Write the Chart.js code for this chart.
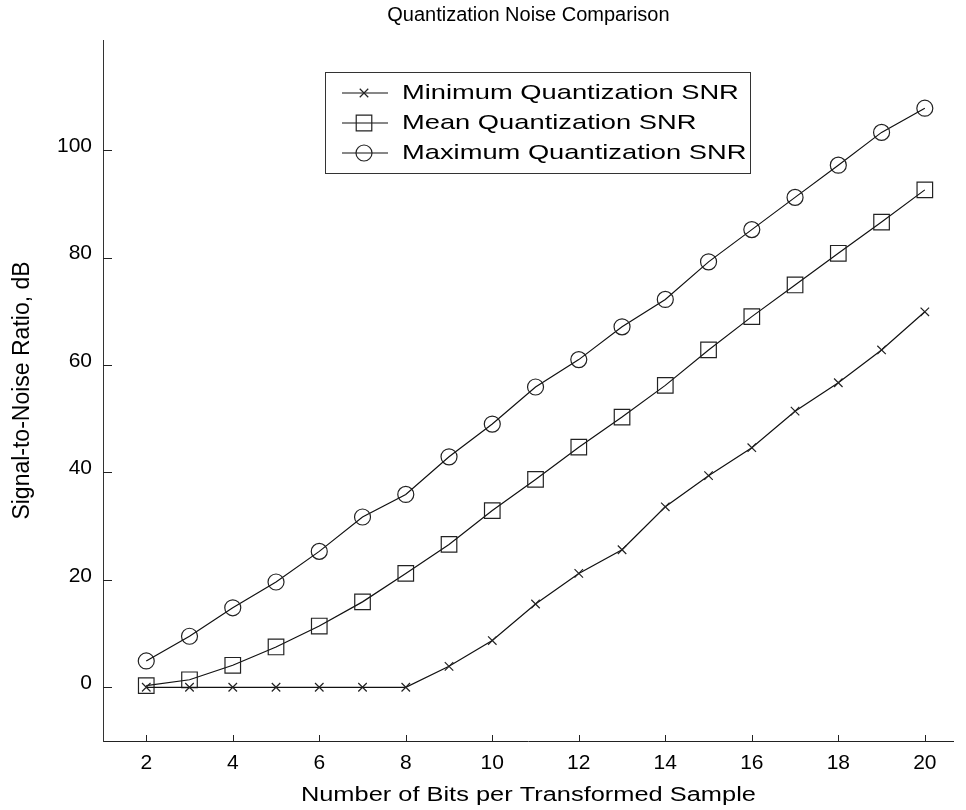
<!DOCTYPE html>
<html>
<head>
<meta charset="utf-8">
<script src="https://cdn.jsdelivr.net/npm/chart.js@4.4.1/dist/chart.umd.min.js"></script>
<style>
html,body{margin:0;padding:0;background:#fff;}
#wrap{width:966px;height:810px;position:relative;}
</style>
</head>
<body>
<div id="wrap"><canvas id="c" width="966" height="810"></canvas></div>
<script>
// ---- data ----
const bits = [2,3,4,5,6,7,8,9,10,11,12,13,14,15,16,17,18,19,20];
const minSNR  = [0,0,0,0,0,0,0,3.9,8.7,15.5,21.2,25.6,33.6,39.4,44.6,51.4,56.7,62.8,69.9];
const meanSNR = [0.3,1.4,4.1,7.5,11.4,15.9,21.2,26.6,32.9,38.7,44.7,50.3,56.2,62.8,69.0,74.9,80.8,86.6,92.6];
const maxSNR  = [4.9,9.5,14.8,19.6,25.3,31.7,35.9,42.9,49.0,55.9,61.0,67.1,72.2,79.2,85.2,91.2,97.2,103.3,107.8];
const seriesLabels = ['Minimum Quantization SNR','Mean Quantization SNR','Maximum Quantization SNR'];
const xTickValues = [2,4,6,8,10,12,14,16,18,20];
const yTickValues = [0,20,40,60,80,100];
const chartTitle = 'Quantization Noise Comparison';
const xTitle = 'Number of Bits per Transformed Sample';
const yTitle = 'Signal-to-Noise Ratio, dB';

const FONT = '"Liberation Sans", Arial, Helvetica, sans-serif';
const toPts = arr => arr.map((v, i) => ({x: bits[i], y: v}));

const styles = [
  {pointStyle: 'crossRot', pointRadius: 6},
  {pointStyle: 'rect', pointRadius: 11},
  {pointStyle: 'circle', pointRadius: 8}
];
const seriesData = [minSNR, meanSNR, maxSNR];

const datasets = seriesData.map((d, i) => ({
  label: seriesLabels[i],
  data: toPts(d),
  borderColor: '#111',
  borderWidth: 1.2,
  pointStyle: styles[i].pointStyle,
  pointRadius: styles[i].pointRadius,
  pointHoverRadius: styles[i].pointRadius,
  pointBorderColor: '#222',
  pointBorderWidth: 1.2,
  pointBackgroundColor: 'rgba(0,0,0,0)',
  fill: false,
  tension: 0
}));

// horizontal stretch for a few texts (the original figure's lettering is wide)
const stretchMap = {};
stretchMap[xTitle] = 1.27;
const stretchText = {
  id: 'stretchText',
  beforeInit(chart) {
    const ctx = chart.ctx;
    const orig = ctx.fillText.bind(ctx);
    ctx.fillText = function (text, x, y, maxWidth) {
      const sx = stretchMap[text];
      if (!sx) return orig(text, x, y);
      ctx.save();
      ctx.translate(x, y);
      ctx.scale(sx, 1);
      orig(text, 0, 0);
      ctx.restore();
    };
  }
};

const innerTicks = {
  id: 'innerTicks',
  afterDraw(chart) {
    const {ctx, chartArea: a, scales: {x, y}} = chart;
    ctx.save();
    ctx.strokeStyle = '#222';
    ctx.lineWidth = 1;
    ctx.beginPath();
    y.ticks.forEach(t => {
      const py = Math.round(y.getPixelForValue(t.value)) + 0.5;
      ctx.moveTo(a.left, py); ctx.lineTo(a.left + 9, py);
    });
    x.ticks.forEach(t => {
      const px = Math.round(x.getPixelForValue(t.value)) + 0.5;
      ctx.moveTo(px, a.bottom); ctx.lineTo(px, a.bottom - 6);
    });
    ctx.stroke();
    ctx.restore();
  }
};

const boxLegend = {
  id: 'boxLegend',
  afterDraw(chart) {
    const ctx = chart.ctx;
    const box = {l: 325, t: 72, r: 750, b: 173};
    const rows = [93, 123, 153];
    ctx.save();
    ctx.strokeStyle = '#333';
    ctx.lineWidth = 1;
    ctx.strokeRect(box.l + 0.5, box.t + 0.5, box.r - box.l, box.b - box.t);
    ctx.font = '21px ' + FONT;
    ctx.textBaseline = 'middle';
    chart.data.datasets.forEach((ds, i) => {
      const y = rows[i];
      ctx.strokeStyle = '#111';
      ctx.lineWidth = 1.2;
      ctx.beginPath(); ctx.moveTo(342, y); ctx.lineTo(388, y); ctx.stroke();
      ctx.fillStyle = 'rgba(0,0,0,0)';
      ctx.strokeStyle = '#222';
      Chart.helpers.drawPoint(ctx, {pointStyle: ds.pointStyle, radius: ds.pointRadius, borderWidth: 1.2, rotation: 0}, 364, y);
      ctx.fillStyle = '#000';
      ctx.save();
      ctx.translate(402, y);
      ctx.scale(1.3, 1);
      ctx.fillText(ds.label, 0, 0);
      ctx.restore();
    });
    ctx.restore();
  }
};

new Chart(document.getElementById('c'), {
  type: 'line',
  data: {datasets},
  plugins: [stretchText, innerTicks, boxLegend],
  options: {
    responsive: false,
    animation: false,
    layout: {padding: {left: 0, right: 4, top: 0, bottom: 0}},
    plugins: {
      legend: {display: false},
      tooltip: {enabled: false},
      title: {
        display: true,
        fullSize: false,
        text: chartTitle,
        color: '#000',
        font: {family: FONT, size: 20, weight: 'normal', lineHeight: 1},
        padding: {top: 5, bottom: 15}
      }
    },
    scales: {
      x: {
        type: 'linear',
        min: 1,
        max: 20.67,
        afterBuildTicks: s => { s.ticks = xTickValues.map(v => ({value: v})); },
        afterFit: s => { s.height = 69; },
        ticks: {color: '#000', font: {family: FONT, size: 21, lineHeight: 1}, padding: 12, maxRotation: 0},
        grid: {display: true, drawOnChartArea: false, drawTicks: false},
        border: {display: true, color: '#222', width: 1},
        title: {display: true, text: xTitle, color: '#000', font: {family: FONT, size: 20, lineHeight: 1}, padding: {top: 0, bottom: 5}}
      },
      y: {
        type: 'linear',
        min: -10,
        max: 120.5,
        afterBuildTicks: s => { s.ticks = yTickValues.map(v => ({value: v})); },
        afterFit: s => { s.width = 103; },
        ticks: {color: '#000', font: {family: FONT, size: 21, lineHeight: 1}, padding: 11, labelOffset: -4},
        grid: {display: true, drawOnChartArea: false, drawTicks: false},
        border: {display: true, color: '#333', width: 1},
        title: {display: true, text: yTitle, color: '#000', font: {family: FONT, size: 23, lineHeight: 1}, padding: {top: 11, bottom: 0}}
      }
    }
  }
});
</script>
</body>
</html>
